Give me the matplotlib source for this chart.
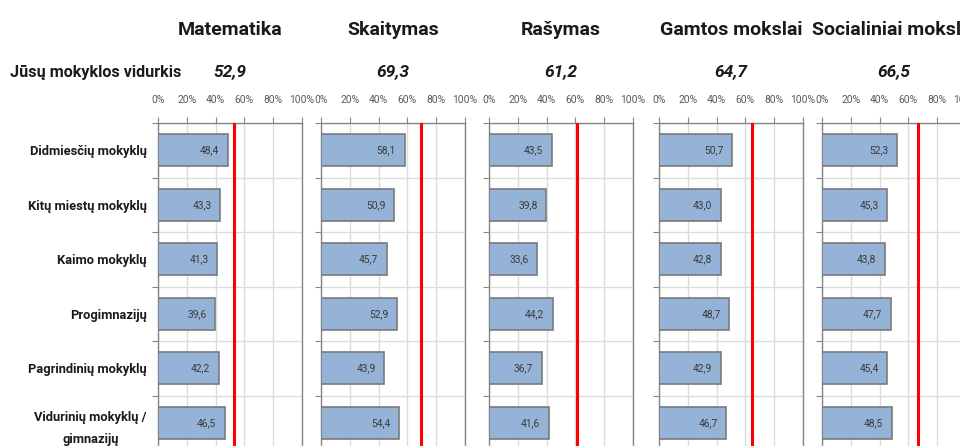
import matplotlib
matplotlib.use("Agg")
import matplotlib.pyplot as plt
from matplotlib.ticker import FixedLocator, NullFormatter

plt.rcParams["font.family"] = ["Roboto", "DejaVu Sans"]

# Duomenys
dalykai = ["Matematika", "Skaitymas", "Rašymas", "Gamtos mokslai", "Socialiniai mokslai"]
mokyklos_vidurkis = [52.9, 69.3, 61.2, 64.7, 66.5]
kategorijos = ["Didmiesčių mokyklų", "Kitų miestų mokyklų", "Kaimo mokyklų",
               "Progimnazijų", "Pagrindinių mokyklų", "Vidurinių mokyklų /\ngimnazijų"]
matematika = [48.4, 43.3, 41.3, 39.6, 42.2, 46.5]
skaitymas = [58.1, 50.9, 45.7, 52.9, 43.9, 54.4]
rasymas = [43.5, 39.8, 33.6, 44.2, 36.7, 41.6]
gamtos = [50.7, 43.0, 42.8, 48.7, 42.9, 46.7]
socialiniai = [52.3, 45.3, 43.8, 47.7, 45.4, 48.5]
x_ticks = [0, 20, 40, 60, 80, 100]
x_tick_labels = ["0%", "20%", "40%", "60%", "80%", "100%"]

serijos = [matematika, skaitymas, rasymas, gamtos, socialiniai]

W, H = 960, 446
fig = plt.figure(figsize=(W / 100, H / 100), dpi=100)

# panelių išdėstymas pikseliais
kaires = [158, 321, 489, 659, 822]
plotis = 144
virsus, apacia = 123, 450

fig.text(10 / W, 1 - 72 / H, "Jūsų mokyklos vidurkis", fontsize=11.6,
         fontweight="bold", ha="left", va="center", color="#1a1a1a")

def fmt(v):
    return f"{v:.1f}".replace(".", ",")

ypos = list(range(len(kategorijos)))

for i, (dalykas, vid, vals) in enumerate(zip(dalykai, mokyklos_vidurkis, serijos)):
    ax = fig.add_axes([kaires[i] / W, 1 - apacia / H, plotis / W, (apacia - virsus) / H])
    ax.barh(ypos, vals, height=0.59, color="#95b3d7", edgecolor="#7a7a7a",
            linewidth=1.2, zorder=3)
    for y, v in zip(ypos, vals):
        ax.text(v - 6, y, fmt(v), ha="right", va="center", fontsize=7.4,
                color="#3a3a3a", zorder=4)
    ax.axvline(vid, color="#ff0000", lw=2.2, zorder=5)

    ax.set_xlim(0, 100)
    ax.set_ylim(len(kategorijos) - 0.5, -0.5)
    ax.xaxis.tick_top()
    ax.set_xticks(x_ticks)
    ax.set_xticklabels(x_tick_labels, fontsize=7.4, color="#595959")
    ax.tick_params(axis="x", length=4, color="#868686", pad=9)
    ax.yaxis.set_major_locator(FixedLocator([k + 0.5 for k in range(-1, len(kategorijos))]))
    ax.yaxis.set_major_formatter(NullFormatter())
    ax.tick_params(axis="y", length=4, color="#868686")
    ax.grid(True, color="#dcdcdc", lw=1.0, zorder=0)
    for s in ax.spines.values():
        s.set_color("#868686")
        s.set_linewidth(1.0)
    ax.spines["bottom"].set_visible(False)

    if i == 0:
        ax.set_yticks(ypos, minor=True)
        ax.set_yticklabels(kategorijos, minor=True, fontsize=9.3, fontweight="bold",
                           color="#1a1a1a", linespacing=1.9, multialignment="center")
        ax.tick_params(axis="y", which="minor", length=0, pad=8)

    cx = (kaires[i] + plotis / 2) / W
    fig.text(cx, 1 - 30 / H, dalykas, fontsize=14, fontweight="bold",
             ha="center", va="center", color="#1a1a1a")
    fig.text(cx, 1 - 72 / H, fmt(vid), fontsize=12.5, fontweight="bold",
             fontstyle="italic", ha="center", va="center", color="#1a1a1a")

fig.savefig("out.png", dpi=100)
